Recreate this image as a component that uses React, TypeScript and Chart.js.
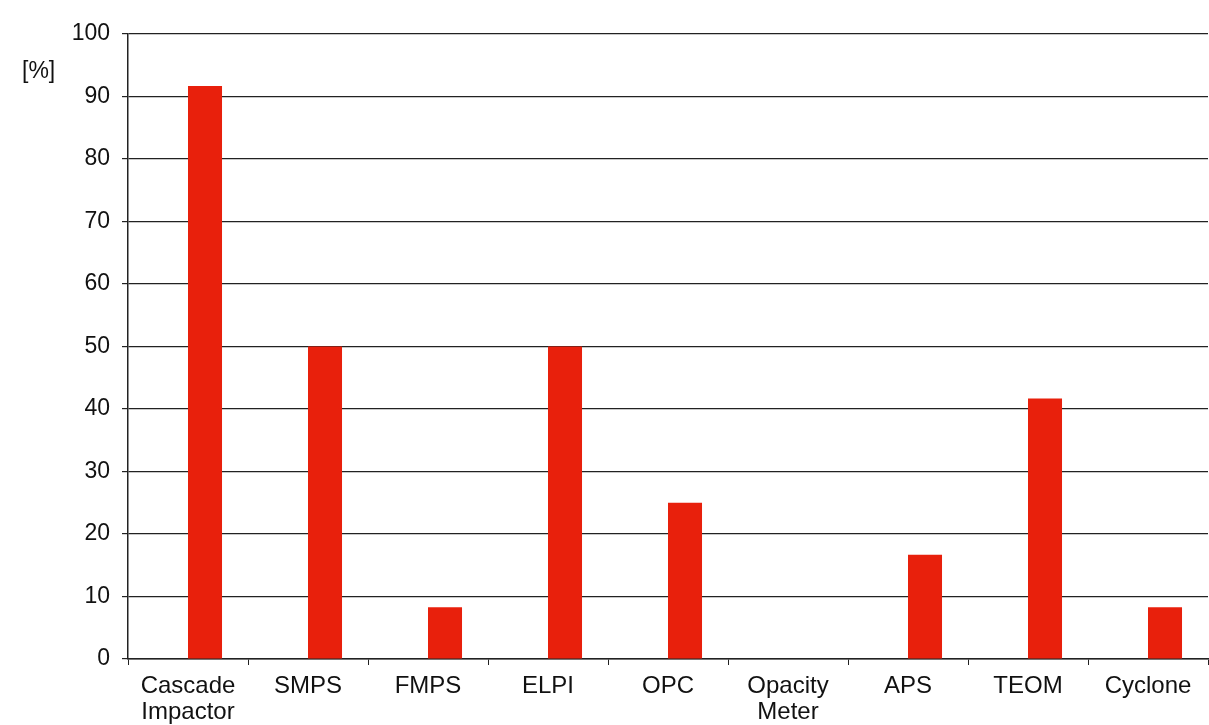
import React, { useEffect, useRef } from "react";
import { Chart, registerables } from "chart.js";

Chart.register(...registerables);

const categories: (string | string[])[] = [
  ["Cascade", "Impactor"],
  "SMPS",
  "FMPS",
  "ELPI",
  "OPC",
  ["Opacity", "Meter"],
  "APS",
  "TEOM",
  "Cyclone",
];
const placeholderValues: (number | null)[] = [null, null, null, null, null, null, null, null, null];
const percentValues: number[] = [91.7, 50, 8.3, 50, 25, 0, 16.7, 41.7, 8.3];
const yTickMin = 0;
const yTickMax = 100;
const yTickStep = 10;
const unitLabel = "[%]";

const FONT = "'Liberation Sans', Arial, Helvetica, sans-serif";

const unitPlugin = {
  id: "unitLabel",
  afterDraw(chart: any) {
    const ctx = chart.ctx;
    ctx.save();
    ctx.font = `23px ${FONT}`;
    ctx.fillStyle = "#111";
    ctx.textAlign = "left";
    ctx.textBaseline = "middle";
    ctx.fillText(unitLabel, 22, 72);
    ctx.restore();
  },
};

export default function App() {
  const ref = useRef<HTMLCanvasElement>(null);
  useEffect(() => {
    if (!ref.current) return;
    const chart = new Chart(ref.current, {
      type: "bar",
      data: {
        labels: categories,
        datasets: [
          {
            label: "placeholder",
            data: placeholderValues,
            backgroundColor: "rgba(0,0,0,0)",
          },
          {
            label: "%",
            data: percentValues,
            backgroundColor: "#e8200c",
          },
        ],
      },
      options: {
        animation: false,
        responsive: false,
        maintainAspectRatio: false,
        layout: { padding: { top: 34, right: 1, left: 0, bottom: 0 } },
        plugins: {
          legend: { display: false },
          tooltip: { enabled: false },
        },
        datasets: {
          bar: { categoryPercentage: 0.567, barPercentage: 1 },
        },
        scales: {
          x: {
            grid: {
              display: true,
              drawOnChartArea: false,
              drawTicks: true,
              tickLength: 6,
              color: "#222",
              offset: true,
            },
            border: { display: true, color: "#222", width: 1.5 },
            ticks: {
              color: "#111",
              font: { family: FONT, size: 24, lineHeight: 1.08 },
              padding: 8,
              maxRotation: 0,
              autoSkip: false,
            },
            afterFit(scale: any) {
              scale.height = 66;
            },
          },
          y: {
            min: yTickMin,
            max: yTickMax,
            ticks: {
              stepSize: yTickStep,
              color: "#111",
              font: { family: FONT, size: 23 },
              padding: 12,
            },
            grid: {
              color: "#222",
              lineWidth: 1.2,
              drawTicks: true,
              tickLength: 6,
            },
            border: { display: true, color: "#222", width: 1.5 },
            afterFit(scale: any) {
              scale.width = 128;
            },
          },
        },
      },
      plugins: [unitPlugin],
    });
    return () => chart.destroy();
  }, []);
  return (
    <div style={{ position: "fixed", left: 0, top: 0, width: 1209, height: 725, background: "#fff" }}>
      <canvas ref={ref} width={1209} height={725} style={{ width: 1209, height: 725 }} />
    </div>
  );
}
